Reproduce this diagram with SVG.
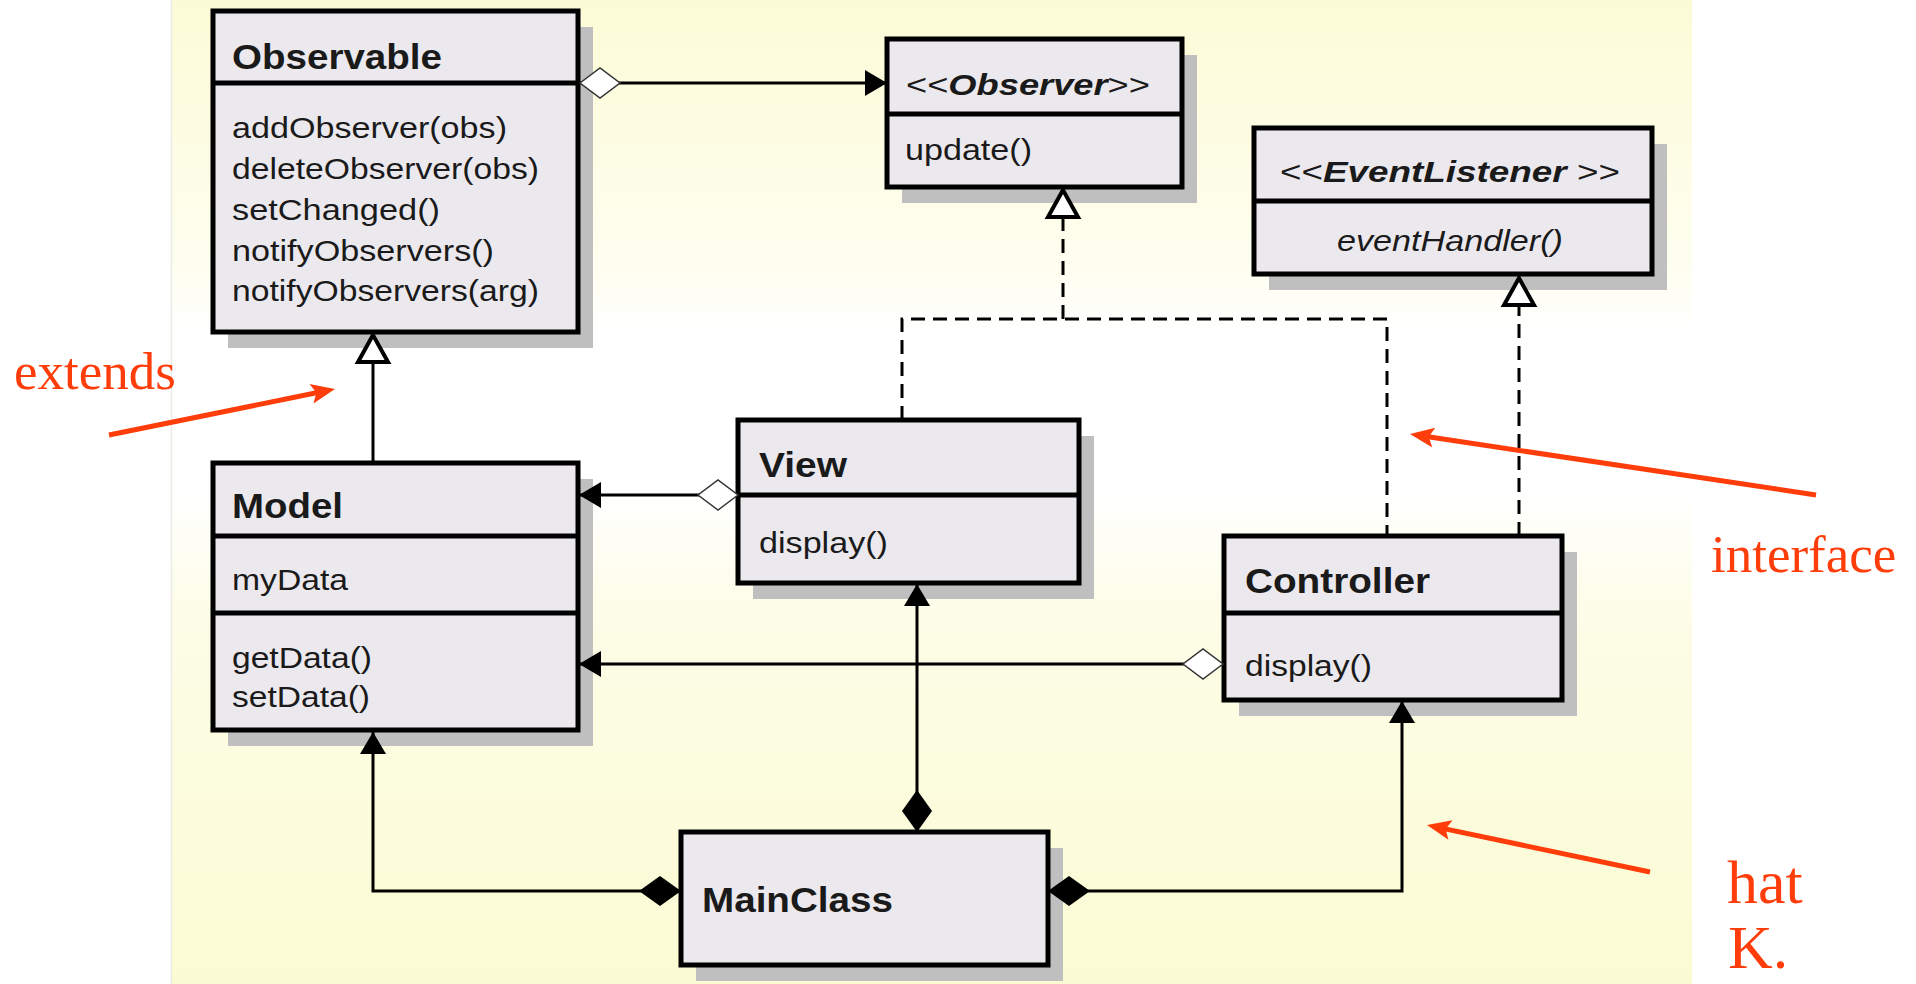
<svg xmlns="http://www.w3.org/2000/svg" width="1916" height="984" viewBox="0 0 1916 984">
<style>
.shadow{fill:#bfbfbf}
.box{fill:#ece9ee;stroke:#000;stroke-width:5}
.div{stroke:#000;stroke-width:5}
.t{font-family:"Liberation Sans",Arial,sans-serif;fill:#1a1a1a}
.title{font-size:35px;font-weight:bold}
.m{font-size:29px}
.line{fill:none;stroke:#000;stroke-width:3}
.dash{fill:none;stroke:#000;stroke-width:3;stroke-dasharray:14 8}
.red{fill:none;stroke:#ff3d0a;stroke-width:5}
.note{font-family:"Liberation Serif","Times New Roman",serif;fill:#ff3d0a}
</style>
<defs>
<linearGradient id="bg" x1="0" y1="0" x2="0" y2="1">
<stop offset="0" stop-color="#fcfbd6"/>
<stop offset="0.27" stop-color="#fefef0"/>
<stop offset="0.34" stop-color="#ffffff"/>
<stop offset="0.5" stop-color="#ffffff"/>
<stop offset="0.62" stop-color="#fdfde8"/>
<stop offset="1" stop-color="#fbfbd3"/>
</linearGradient>
<marker id="arrow" markerUnits="userSpaceOnUse" markerWidth="24" markerHeight="28" refX="22" refY="13" orient="auto" overflow="visible">
<path d="M0,0 L22,13 L0,26 z" fill="#000"/>
</marker>
<marker id="odiamond" markerUnits="userSpaceOnUse" markerWidth="42" markerHeight="32" refX="0" refY="15" orient="auto" overflow="visible">
<path d="M0,15 L20,0 L40,15 L20,30 z" fill="#fff" stroke="#333" stroke-width="1.5"/>
</marker>
<marker id="fdiamond" markerUnits="userSpaceOnUse" markerWidth="44" markerHeight="32" refX="0" refY="15" orient="auto" overflow="visible">
<path d="M0,15 L21,0 L42,15 L21,30 z" fill="#000"/>
</marker>
<marker id="otri" markerUnits="userSpaceOnUse" markerWidth="30" markerHeight="32" refX="27" refY="15" orient="auto" overflow="visible">
<path d="M27,15 L0,0 L0,30 z" fill="#fff" stroke="#000" stroke-width="4" stroke-linejoin="miter"/>
</marker>
<marker id="redhead" markerUnits="userSpaceOnUse" markerWidth="26" markerHeight="22" refX="14" refY="10" orient="auto" overflow="visible">
<path d="M0,0 L24,10 L0,20 L5,10 z" fill="#ff3d0a"/>
</marker>
</defs>

<rect x="0" y="0" width="1916" height="984" fill="#ffffff"/>
<rect x="171" y="0" width="1521" height="984" fill="url(#bg)"/>
<line x1="171.5" y1="0" x2="171.5" y2="984" stroke="#ebebe3" stroke-width="1.5"/>

<g id="Observable">
<rect class="shadow" x="228" y="27" width="365" height="321"/>
<rect class="box" x="213" y="11" width="365" height="321"/>
<line class="div" x1="213" y1="83" x2="578" y2="83"/>
<text class="t title" x="232" y="69" textLength="210" lengthAdjust="spacingAndGlyphs">Observable</text>
<text class="t m" x="232" y="138" textLength="275" lengthAdjust="spacingAndGlyphs">addObserver(obs)</text>
<text class="t m" x="232" y="179" textLength="307" lengthAdjust="spacingAndGlyphs">deleteObserver(obs)</text>
<text class="t m" x="232" y="220" textLength="208" lengthAdjust="spacingAndGlyphs">setChanged()</text>
<text class="t m" x="232" y="261" textLength="262" lengthAdjust="spacingAndGlyphs">notifyObservers()</text>
<text class="t m" x="232" y="301" textLength="307" lengthAdjust="spacingAndGlyphs">notifyObservers(arg)</text>
</g>

<g id="Observer">
<rect class="shadow" x="902" y="55" width="295" height="148"/>
<rect class="box" x="887" y="39" width="295" height="148"/>
<line class="div" x1="887" y1="114" x2="1182" y2="114"/>
<text class="t m" x="906" y="95" textLength="244" lengthAdjust="spacingAndGlyphs">&lt;&lt;<tspan font-weight="bold" font-style="italic">Observer</tspan>&gt;&gt;</text>
<text class="t m" x="905" y="160" textLength="127" lengthAdjust="spacingAndGlyphs">update()</text>
</g>

<g id="EventListener">
<rect class="shadow" x="1269" y="144" width="398" height="146"/>
<rect class="box" x="1254" y="128" width="398" height="146"/>
<line class="div" x1="1254" y1="201" x2="1652" y2="201"/>
<text class="t m" x="1450" y="182" text-anchor="middle" textLength="340" lengthAdjust="spacingAndGlyphs">&lt;&lt;<tspan font-weight="bold" font-style="italic">EventListener</tspan> &gt;&gt;</text>
<text class="t m" x="1450" y="251" text-anchor="middle" font-style="italic" textLength="226" lengthAdjust="spacingAndGlyphs">eventHandler()</text>
</g>

<g id="Model">
<rect class="shadow" x="228" y="479" width="365" height="267"/>
<rect class="box" x="213" y="463" width="365" height="267"/>
<line class="div" x1="213" y1="536" x2="578" y2="536"/>
<line class="div" x1="213" y1="613" x2="578" y2="613"/>
<text class="t title" x="232" y="518" textLength="111" lengthAdjust="spacingAndGlyphs">Model</text>
<text class="t m" x="232" y="590" textLength="116" lengthAdjust="spacingAndGlyphs">myData</text>
<text class="t m" x="232" y="668" textLength="140" lengthAdjust="spacingAndGlyphs">getData()</text>
<text class="t m" x="232" y="707" textLength="138" lengthAdjust="spacingAndGlyphs">setData()</text>
</g>

<g id="View">
<rect class="shadow" x="753" y="436" width="341" height="163"/>
<rect class="box" x="738" y="420" width="341" height="163"/>
<line class="div" x1="738" y1="495" x2="1079" y2="495"/>
<text class="t title" x="759" y="477" textLength="88" lengthAdjust="spacingAndGlyphs">View</text>
<text class="t m" x="759" y="553" textLength="129" lengthAdjust="spacingAndGlyphs">display()</text>
</g>

<g id="Controller">
<rect class="shadow" x="1239" y="552" width="338" height="164"/>
<rect class="box" x="1224" y="536" width="338" height="164"/>
<line class="div" x1="1224" y1="613" x2="1562" y2="613"/>
<text class="t title" x="1245" y="593" textLength="185" lengthAdjust="spacingAndGlyphs">Controller</text>
<text class="t m" x="1245" y="676" textLength="127" lengthAdjust="spacingAndGlyphs">display()</text>
</g>

<g id="MainClass">
<rect class="shadow" x="696" y="848" width="367" height="133"/>
<rect class="box" x="681" y="832" width="367" height="133"/>
<text class="t title" x="702" y="912" textLength="191" lengthAdjust="spacingAndGlyphs">MainClass</text>
</g>

<g id="connectors">
<path class="line" d="M580,83 H887" marker-start="url(#odiamond)" marker-end="url(#arrow)"/>
<path class="line" d="M373,463 V335" marker-end="url(#otri)"/>
<path class="line" d="M738,495 H579" marker-start="url(#odiamond)" marker-end="url(#arrow)"/>
<path class="line" d="M1223,664 H579" marker-start="url(#odiamond)" marker-end="url(#arrow)"/>
<path class="dash" d="M902,420 V319 H1387 V536"/>
<path class="dash" d="M1063,319 V190" marker-end="url(#otri)"/>
<path class="dash" d="M1519,536 V278" marker-end="url(#otri)"/>
<path class="line" d="M917,832 V584" marker-start="url(#fdiamond)" marker-end="url(#arrow)"/>
<path class="line" d="M681,891 H373 V732" marker-start="url(#fdiamond)" marker-end="url(#arrow)"/>
<path class="line" d="M1048,891 H1402 V701" marker-start="url(#fdiamond)" marker-end="url(#arrow)"/>
</g>

<g id="annotations">
<path class="red" d="M109,435 L325.2,391" marker-end="url(#redhead)"/>
<path class="red" d="M1816,495 L1419.9,435.5" marker-end="url(#redhead)"/>
<path class="red" d="M1650,872 L1436.8,827.1" marker-end="url(#redhead)"/>
<text class="note" x="14" y="389" font-size="53">extends</text>
<text class="note" x="1711" y="572" font-size="53">interface</text>
<text class="note" x="1727" y="903" font-size="62">hat</text>
<text class="note" x="1728" y="968" font-size="62">K.</text>
</g>
</svg>
